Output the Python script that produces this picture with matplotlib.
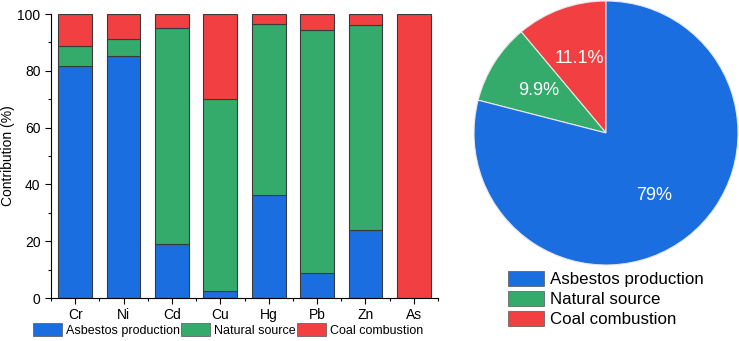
import matplotlib
matplotlib.use("Agg")
import matplotlib.pyplot as plt
from matplotlib.patches import Patch
from matplotlib.ticker import MultipleLocator
import numpy as np

plt.rcParams["font.family"] = ["Liberation Sans", "DejaVu Sans"]

elements = ["Cr", "Ni", "Cd", "Cu", "Hg", "Pb", "Zn", "As"]
asbestos = [81.8, 85.3, 19.0, 2.3, 36.1, 8.7, 24.0, 0.0]
natural = [6.8, 5.8, 76.0, 67.9, 60.3, 85.8, 72.0, 0.0]
coal = [11.4, 8.9, 5.0, 29.8, 3.6, 5.5, 4.0, 100.0]

sources = ["Asbestos production", "Natural source", "Coal combustion"]
pie_share = [79.0, 9.9, 11.1]
pie_labels = ["79%", "9.9%", "11.1%"]

colors = ["#1b6ee0", "#35ab6b", "#f24042"]

fig = plt.figure(figsize=(7.39, 3.41), dpi=100)

# stacked bars
ax = fig.add_axes([51 / 739, 1 - 298 / 341, 387 / 739, 284 / 341])
x = np.arange(len(elements))
bottom = np.zeros(len(elements))
for vals, c in zip([asbestos, natural, coal], colors):
    ax.bar(x, vals, bottom=bottom, width=0.7, color=c, edgecolor="#3a3a3a", linewidth=0.8)
    bottom += np.array(vals)

ax.set_xlim(-0.5, 7.5)
ax.set_ylim(0, 100)
ax.set_xticks(x)
ax.set_xticklabels(elements)
ax.xaxis.set_minor_locator(MultipleLocator(1, offset=0.5))
ax.yaxis.set_major_locator(MultipleLocator(20))
ax.yaxis.set_minor_locator(MultipleLocator(10))
ax.tick_params(which="both", direction="out", labelsize=10, width=0.8)
ax.tick_params(which="major", length=4)
ax.tick_params(which="minor", length=2.5)
ax.spines["top"].set_visible(False)
ax.spines["right"].set_visible(False)
ax.set_ylabel("Contribution (%)", fontsize=10, labelpad=2)

handles = [Patch(facecolor=c, edgecolor="#555555", linewidth=0.5) for c in colors]
fig.legend(handles, sources, loc="center left", bbox_to_anchor=(33 / 739, 1 - 330 / 341),
           ncol=3, frameon=False, fontsize=9, handlelength=2.3, handleheight=1.15,
           handletextpad=0.35, columnspacing=0.1, borderpad=0, borderaxespad=0)

# pie
r = 132
pax = fig.add_axes([(606 - r) / 739, (341 - 133 - r) / 341, 2 * r / 739, 2 * r / 341])
order = [2, 1, 0]
wedges, texts, autotexts = pax.pie(
    [pie_share[i] for i in order],
    colors=[colors[i] for i in order],
    startangle=90, counterclock=True,
    autopct="%1.1f%%", pctdistance=0.6,
    wedgeprops=dict(edgecolor="#e8e8e8", linewidth=0.8),
    textprops=dict(color="white", fontsize=13),
)
for t, i in zip(autotexts, order):
    t.set_text(pie_labels[i])
for w in wedges:
    w.set_clip_on(False)
pax.set_xlim(-1, 1)
pax.set_ylim(-1, 1)

fig.legend(handles, sources, loc="upper left", bbox_to_anchor=(508 / 739, 1 - 271 / 341),
           frameon=False, fontsize=12.2, handlelength=2.1, handleheight=1.0,
           handletextpad=0.4, labelspacing=0.2, borderpad=0, borderaxespad=0)

fig.savefig("out.png", dpi=100)
